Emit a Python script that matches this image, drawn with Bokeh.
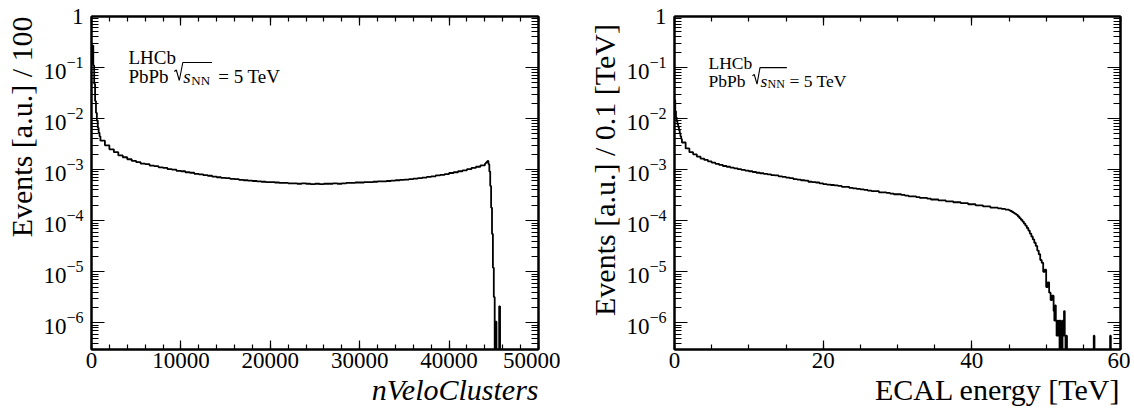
import math
import numpy as np
from bokeh.plotting import figure
from bokeh.models import (Range1d, LinearAxis, LogAxis, Label, Title,
                          FixedTicker, SingleIntervalTicker, CustomJSTickFormatter)
from bokeh.layouts import row
from bokeh.embed import file_html
from bokeh.resources import INLINE

# ---------------- data: nVeloClusters histogram (normalised, bins of 100) ----------------
velo_edges = np.concatenate([np.arange(0, 1000, 100), np.arange(1000, 44000, 500),
                             np.arange(44000, 45800, 100), [45800, 50000]])
velo_vals = (
    [0.12, 0.27, 0.11, 0.048, 0.022, 0.013, 0.0090, 0.0066, 0.0053, 0.0045]
    + [0.0037, 0.0030, 0.0025, 0.0022, 0.0019, 0.00175, 0.00160, 0.00148, 0.00140, 0.00131,
       0.00128, 0.00120, 0.00117, 0.00111, 0.00108, 0.00102, 0.00100, 0.00095, 0.00093, 0.00089,
       0.00087, 0.00083, 0.00081, 0.00078, 0.00076, 0.00073, 0.00071, 0.00069, 0.00068, 0.00066,
       0.00065, 0.00063, 0.00062, 0.00061, 0.00060, 0.00059, 0.00058, 0.00057, 0.00057, 0.00056,
       0.00055, 0.00055, 0.00054, 0.00054, 0.00053, 0.00054, 0.00053, 0.00052, 0.00053, 0.00052,
       0.00053, 0.00053, 0.00054, 0.00053, 0.00054, 0.00055, 0.00055, 0.00056, 0.00056, 0.00057,
       0.00057, 0.00058, 0.00059, 0.00059, 0.00060, 0.00061, 0.00062, 0.00063, 0.00064, 0.00065,
       0.00067, 0.00068, 0.00070, 0.00072, 0.00074, 0.00077, 0.00079, 0.00082, 0.00086, 0.00089,
       0.00093, 0.00097, 0.00102, 0.00108, 0.00114, 0.00121]
    + [0.00131, 0.00137, 0.00143, 0.00148, 0.00128, 0.00092, 0.00048, 0.00018, 5.5e-5, 1.2e-5,
       3.2e-6, 0, 1.05e-6, 0, 0, 0, 2.1e-6, 0]
    + [0]
)

# ---------------- data: ECAL energy histogram (normalised) ----------------
ecal_edges = np.concatenate([np.arange(0, 10) / 10, np.arange(2, 24) / 2, np.arange(24, 90) / 2,
                             np.arange(225, 255) / 5, np.arange(510, 528) / 10,
                             [52.8, 56.4, 56.5, 58.6, 58.7, 60.0]])
ecal_vals = (
    [0.023, 0.014, 0.0105, 0.0088, 0.0077, 0.0068, 0.0059, 0.0052, 0.0045, 0.0040]
    + [0.0034, 0.0026, 0.0022, 0.0020, 0.0018, 0.00165, 0.00155, 0.00145, 0.00137, 0.00130,
       0.00124, 0.00118, 0.00114, 0.00110, 0.00106, 0.00102, 0.00099, 0.00096, 0.00093, 0.00090,
       0.00087, 0.00085]
    + [0.00083, 0.00081, 0.00078, 0.00077, 0.00074, 0.00072, 0.00070, 0.00068, 0.00065, 0.00064,
       0.00062, 0.00061, 0.00058, 0.00057, 0.00056, 0.00054, 0.00052, 0.00051, 0.00050, 0.00049,
       0.00048, 0.00046, 0.00046, 0.00044, 0.00043, 0.00042, 0.00041, 0.00040, 0.00039, 0.00038,
       0.00038, 0.00036, 0.00036, 0.00035, 0.00034, 0.00033, 0.00033, 0.00032, 0.00031, 0.00030,
       0.00030, 0.00029, 0.00028, 0.00028, 0.00027, 0.00026, 0.00026, 0.00025, 0.00025, 0.00024,
       0.00024, 0.00023, 0.00023, 0.00022, 0.00022, 0.00021, 0.00021, 0.00020, 0.00020, 0.00019,
       0.00019, 0.00018, 0.00018, 0.000175, 0.00017, 0.000165]
    + [1.60e-4, 1.55e-4, 1.48e-4, 1.42e-4, 1.36e-4, 1.30e-4, 1.21e-4, 1.12e-4, 1.04e-4, 9.6e-5,
       8.8e-5, 8.0e-5, 7.2e-5, 6.4e-5, 5.6e-5, 4.9e-5, 4.3e-5, 3.7e-5, 3.2e-5, 2.6e-5,
       2.2e-5, 1.7e-5, 1.5e-5, 1.0e-5, 1.1e-5, 5.0e-6, 6.2e-6, 3.9e-6, 2.8e-6, 3.4e-6]
    + [1.7e-6, 1.1e-6, 2.2e-6, 1.1e-6, 5.6e-7, 1.1e-6, 5.6e-7, 1.1e-6, 0, 1.1e-6,
       5.6e-7, 0, 1.1e-6, 5.6e-7, 1.7e-6, 5.6e-7, 0, 5.6e-7]
    + [0, 5.6e-7, 0, 5.6e-7, 0]
)

y_tick_vals = [1e-6, 1e-5, 1e-4, 1e-3, 1e-2, 1e-1, 1.0]
y_minor_vals = [m * 10.0 ** e for e in range(-7, 0) for m in range(2, 10)]

FONT = "Liberation Serif"
Y_LO, Y_HI = 3e-7, 1.0
HEIGHT = 408
B_TOP, B_BOTTOM = 16, 59


def hist_xy(edges, vals):
    v = [x if x > 0 else Y_LO * 1e-3 for x in vals]
    return list(map(float, edges)), v + [v[-1]]


def style_axis(ax, tick_major, tick_minor, show_labels=True):
    ax.axis_line_width = 2
    ax.axis_line_color = "black"
    ax.major_tick_in = tick_major
    ax.major_tick_out = 0
    ax.minor_tick_in = tick_minor
    ax.minor_tick_out = 0
    ax.major_tick_line_color = "black"
    ax.minor_tick_line_color = "black"
    ax.major_tick_line_width = 1.2
    ax.minor_tick_line_width = 1.2
    if show_labels:
        ax.major_label_text_font = FONT
        ax.major_label_text_font_size = "23px"
        ax.major_label_text_color = "black"
    else:
        ax.formatter = CustomJSTickFormatter(code="return ''")
        ax.major_label_standoff = 0
        ax.major_label_text_font_size = "0px"


def make_panel(width, border_left, border_right, x_end, x_ticker_args, edges, vals,
               ytitle, xtitle, xtitle_italic, txt_size, txt_pos):
    p = figure(width=width, height=HEIGHT, x_range=Range1d(0, x_end), y_range=Range1d(Y_LO, Y_HI),
               y_axis_type="log", output_backend="svg", toolbar_location=None,
               min_border_left=border_left, min_border_right=border_right,
               min_border_top=B_TOP, min_border_bottom=B_BOTTOM)
    p.xgrid.visible = False
    p.ygrid.visible = False
    p.outline_line_color = "black"
    p.outline_line_width = 2
    p.background_fill_color = "white"
    p.border_fill_color = "white"

    p.xaxis.ticker = SingleIntervalTicker(**x_ticker_args)
    p.yaxis.ticker = FixedTicker(ticks=y_tick_vals, minor_ticks=y_minor_vals)
    style_axis(p.xaxis[0], 9, 5)
    style_axis(p.yaxis[0], 13, 7)
    p.xaxis.major_label_standoff = 3
    p.yaxis.major_label_standoff = 8
    p.yaxis.major_label_overrides = {1.0: "1"}

    top = LinearAxis(ticker=SingleIntervalTicker(**x_ticker_args))
    style_axis(top, 9, 5, show_labels=False)
    p.add_layout(top, "above")
    right = LogAxis(ticker=FixedTicker(ticks=y_tick_vals, minor_ticks=y_minor_vals))
    style_axis(right, 13, 7, show_labels=False)
    p.add_layout(right, "right")

    xs, ys = hist_xy(edges, vals)
    p.step(xs, ys, mode="after", line_color="black", line_width=1.8)

    # axis titles (ROOT style: aligned to the far end of each axis)
    p.add_layout(Title(text=xtitle, align="right", text_font=FONT, text_font_size="30px",
                       text_color="black", standoff=0,
                       text_font_style="italic" if xtitle_italic else "normal"), "below")
    p.add_layout(Title(text=ytitle, align="right", text_font=FONT, text_font_size="30px",
                       text_color="black", text_font_style="normal", standoff=5), "left")

    # helpers: offsets in frame pixels (from frame left / frame top) -> data coordinates
    fw = width - border_left - border_right
    fh = HEIGHT - B_TOP - B_BOTTOM
    lg_hi, lg_lo = math.log10(Y_HI), math.log10(Y_LO)

    def dx(px):
        return x_end * px / fw

    def dy(py):
        return 10 ** (lg_hi - py / fh * (lg_hi - lg_lo))

    # LHCb / PbPb sqrt(s_NN) = 5 TeV
    x0, b1, b2, xr, xs_, xn, xe = txt_pos
    k = txt_size / 19.0
    sub = round(txt_size * 0.7)
    common = dict(text_font=FONT, text_color="black", text_baseline="alphabetic")
    p.add_layout(Label(x=dx(x0), y=dy(b1), text="LHCb", text_font_size=f"{txt_size}px", **common))
    p.add_layout(Label(x=dx(x0), y=dy(b2), text="PbPb", text_font_size=f"{txt_size}px", **common))
    p.add_layout(Label(x=dx(xs_), y=dy(b2), text="s", text_font_style="italic",
                       text_font_size=f"{txt_size}px", **common))
    p.add_layout(Label(x=dx(xn), y=dy(b2 + 4 * k), text="NN", text_font_size=f"{sub}px", **common))
    p.add_layout(Label(x=dx(xe), y=dy(b2), text="= 5 TeV", text_font_size=f"{txt_size}px", **common))
    # radical sign drawn as a polyline (as ROOT's #sqrt does)
    rad_px = [xr + 1 * k, xr + 3 * k, xr + 6 * k, xs_ - 0.5, xn + sub * 1.45 + 2]
    rad_py = [b2 - 5 * k, b2 - 6.5 * k, b2 + 4 * k, b2 - 14 * k, b2 - 14 * k]
    p.line([dx(v) for v in rad_px], [dy(v) for v in rad_py], line_color="black", line_width=1.1)
    return p


p1 = make_panel(560, 90, 22, 50000, dict(interval=10000, num_minor_ticks=5),
                velo_edges, velo_vals, "Events [a.u.] / 100",
                "nVeloClusters", True, 19, (37, 41, 60, 82, 92, 100, 127))
p2 = make_panel(570, 114, 10, 60, dict(interval=20, num_minor_ticks=4),
                ecal_edges, ecal_vals, "Events [a.u.]  / 0.1 [TeV]",
                "ECAL energy [TeV]", False, 17.5, (34, 46, 64, 77, 86, 93, 115))

layout = row(p1, p2)
open("out.html", "w").write(file_html(layout, INLINE))
